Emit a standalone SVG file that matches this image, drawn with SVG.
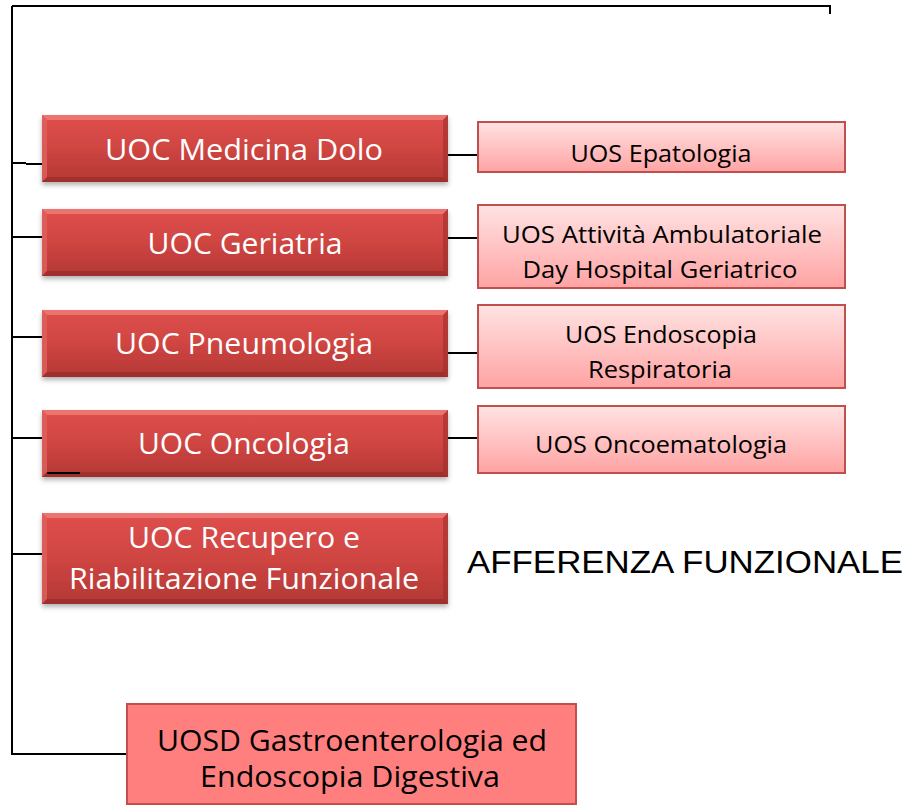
<svg xmlns="http://www.w3.org/2000/svg" width="912" height="805" viewBox="0 0 912 805">
<defs>
<linearGradient id="gMain" x1="0" y1="0" x2="0" y2="1">
<stop offset="0" stop-color="#DE4F4C"/>
<stop offset="0.5" stop-color="#CF4542"/>
<stop offset="1" stop-color="#B33835"/>
</linearGradient>
<linearGradient id="gSub" x1="0" y1="0" x2="0" y2="1">
<stop offset="0" stop-color="#FFE3E3"/>
<stop offset="1" stop-color="#FFA3A3"/>
</linearGradient>
<filter id="sh" x="-5%" y="-10%" width="110%" height="130%">
<feDropShadow dx="0" dy="3" stdDeviation="2.5" flood-color="#000" flood-opacity="0.3"/>
</filter>
</defs>
<style>
.main{fill:url(#gMain);filter:url(#sh);}
.bt{fill:#F07A77;opacity:0.85;}
.bl{fill:#E0615E;opacity:0.8;}
.br{fill:#9E2E2C;opacity:0.6;}
.bb{fill:#8E2826;opacity:0.55;}
.sub{fill:url(#gSub);stroke:#C0504D;stroke-width:2;}
.uosd{fill:#FF7F7F;stroke:#C0504D;stroke-width:2;}
.tw{font-family:"Open Sans","Noto Sans",sans-serif;fill:#FFFFFF;font-size:30px;text-anchor:middle;}
.tb{font-family:"Open Sans","Noto Sans",sans-serif;fill:#000000;font-size:23px;text-anchor:middle;}
.tg{font-family:"Open Sans","Noto Sans",sans-serif;fill:#000000;font-size:29px;text-anchor:middle;}
.ta{font-family:"Liberation Sans",Arial,sans-serif;fill:#000000;font-size:31px;}
.ln{stroke:#000;stroke-width:2;fill:none;}
</style>
<g id="connectors">
<path class="ln" d="M12,6 H830 V14"/>
<path class="ln" d="M12,6 V754 H127"/>
<path class="ln" d="M12,163 H26 M26,164 H42"/>
<path class="ln" d="M12,237 H42"/>
<path class="ln" d="M12,337 H43"/>
<path class="ln" d="M12,438 H42"/>
<path class="ln" d="M12,554 H42"/>
<path class="ln" d="M447,155 H478"/>
<path class="ln" d="M448,238 H478"/>
<path class="ln" d="M447,353 H478"/>
<path class="ln" d="M448,438 H478"/>
</g>
<g id="n-medicina">
<rect class="main" x="42" y="115" width="406" height="67"/>
<polygon class="bt" points="42,115 448,115 443,120 47,120"/>
<polygon class="bl" points="42,115 47,120 47,177 42,182"/>
<polygon class="br" points="448,115 448,182 443,177 443,120"/>
<polygon class="bb" points="42,182 448,182 443,177 47,177"/>
<text class="tw" x="244" y="160" textLength="278" lengthAdjust="spacingAndGlyphs">UOC Medicina Dolo</text>
</g>
<g id="n-geriatria">
<rect class="main" x="42" y="209" width="406" height="67"/>
<polygon class="bt" points="42,209 448,209 443,214 47,214"/>
<polygon class="bl" points="42,209 47,214 47,271 42,276"/>
<polygon class="br" points="448,209 448,276 443,271 443,214"/>
<polygon class="bb" points="42,276 448,276 443,271 47,271"/>
<text class="tw" x="245" y="254" textLength="195" lengthAdjust="spacingAndGlyphs">UOC Geriatria</text>
</g>
<g id="n-pneumologia">
<rect class="main" x="42" y="310" width="406" height="67"/>
<polygon class="bt" points="42,310 448,310 443,315 47,315"/>
<polygon class="bl" points="42,310 47,315 47,372 42,377"/>
<polygon class="br" points="448,310 448,377 443,372 443,315"/>
<polygon class="bb" points="42,377 448,377 443,372 47,372"/>
<text class="tw" x="244" y="354" textLength="258" lengthAdjust="spacingAndGlyphs">UOC Pneumologia</text>
</g>
<g id="n-oncologia">
<rect class="main" x="42" y="410" width="406" height="67"/>
<polygon class="bt" points="42,410 448,410 443,415 47,415"/>
<polygon class="bl" points="42,410 47,415 47,472 42,477"/>
<polygon class="br" points="448,410 448,477 443,472 443,415"/>
<polygon class="bb" points="42,477 448,477 443,472 47,472"/>
<text class="tw" x="244" y="454" textLength="212" lengthAdjust="spacingAndGlyphs">UOC Oncologia</text>
<path class="ln" d="M47,473 H80"/>
</g>
<g id="n-recupero">
<rect class="main" x="42" y="513" width="406" height="91"/>
<polygon class="bt" points="42,513 448,513 443,518 47,518"/>
<polygon class="bl" points="42,513 47,518 47,599 42,604"/>
<polygon class="br" points="448,513 448,604 443,599 443,518"/>
<polygon class="bb" points="42,604 448,604 443,599 47,599"/>
<text class="tw" x="244" y="548" textLength="232" lengthAdjust="spacingAndGlyphs">UOC Recupero e</text>
<text class="tw" x="244" y="589" textLength="350" lengthAdjust="spacingAndGlyphs">Riabilitazione Funzionale</text>
</g>
<g id="n-epatologia">
<rect class="sub" x="478" y="122" width="367" height="50"/>
<text class="tb" x="661" y="162" textLength="181" lengthAdjust="spacingAndGlyphs">UOS Epatologia</text>
</g>
<g id="n-ambulatoriale">
<rect class="sub" x="478" y="205" width="367" height="83"/>
<text class="tb" x="662" y="243" textLength="320" lengthAdjust="spacingAndGlyphs">UOS Attività Ambulatoriale</text>
<text class="tb" x="660" y="278" textLength="275" lengthAdjust="spacingAndGlyphs">Day Hospital Geriatrico</text>
</g>
<g id="n-endoscopia">
<rect class="sub" x="478" y="305" width="367" height="83"/>
<text class="tb" x="661" y="343" textLength="192" lengthAdjust="spacingAndGlyphs">UOS Endoscopia</text>
<text class="tb" x="660" y="378" textLength="144" lengthAdjust="spacingAndGlyphs">Respiratoria</text>
</g>
<g id="n-oncoematologia">
<rect class="sub" x="478" y="406" width="367" height="67"/>
<text class="tb" x="661" y="453" textLength="252" lengthAdjust="spacingAndGlyphs">UOS Oncoematologia</text>
</g>
<g id="n-uosd">
<rect class="uosd" x="127" y="704" width="449" height="100"/>
<text class="tg" x="352" y="751" textLength="390" lengthAdjust="spacingAndGlyphs">UOSD Gastroenterologia ed</text>
<text class="tg" x="350" y="787" textLength="300" lengthAdjust="spacingAndGlyphs">Endoscopia Digestiva</text>
</g>
<g id="label-afferenza">
<text class="ta" x="467" y="573" textLength="436" lengthAdjust="spacingAndGlyphs">AFFERENZA FUNZIONALE</text>
</g>
</svg>
